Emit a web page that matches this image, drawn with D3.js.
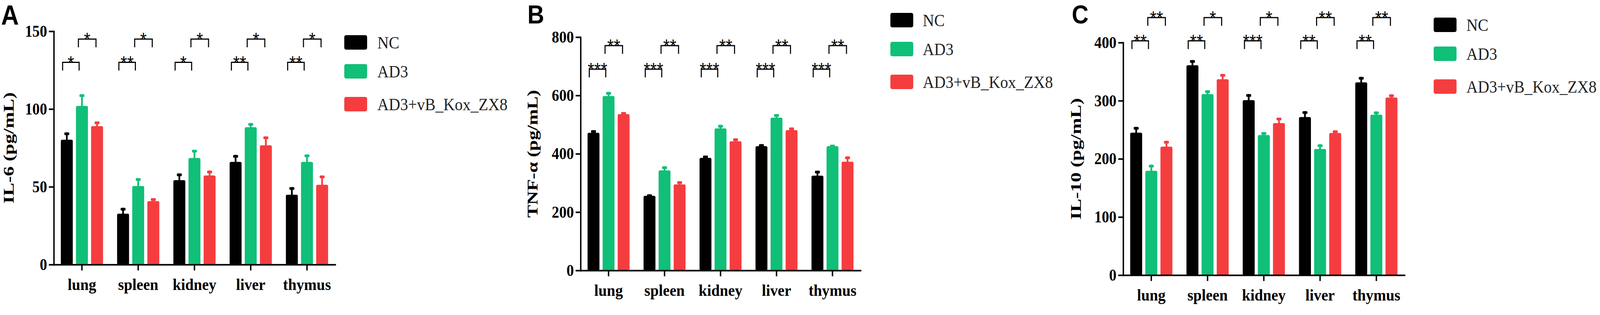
<!DOCTYPE html>
<html>
<head>
<meta charset="utf-8">
<script src="https://cdn.jsdelivr.net/npm/d3@7"></script>
<style>
  html, body { margin: 0; padding: 0; background: #fff; overflow: hidden; }
  svg { display: block; }
</style>
</head>
<body>
<div id="chart"></div>
<script>
// categories and groups
const organs = ["lung", "spleen", "kidney", "liver", "thymus"];
const groups = ["NC", "AD3", "AD3+vB_Kox_ZX8"];
const groupColours = ["#000000", "#10bf78", "#f53d3f"];

// IL-6 (pg/mL)
const il6NC = [80.3, 32.7, 54.3, 66, 44.9];
const il6NCErr = [4.7, 3.8, 4.3, 4.5, 4.9];
const il6AD3 = [102, 50.5, 68.5, 88.3, 66];
const il6AD3Err = [7.5, 5.1, 5.3, 2.7, 4.8];
const il6ZX8 = [89, 40.8, 57.3, 76.7, 51.3];
const il6ZX8Err = [3, 1.9, 3.1, 5.7, 6];

// TNF-a (pg/mL)
const tnfNC = [472, 256, 386, 426, 325];
const tnfNCErr = [9, 5, 8, 7, 17];
const tnfAD3 = [598, 343, 487, 524, 426];
const tnfAD3Err = [14, 14, 12, 12, 5];
const tnfZX8 = [536, 295, 443, 481, 373];
const tnfZX8Err = [7, 11, 10, 9, 18];

// IL-10 (pg/mL)
const il10NC = [245, 361, 301, 272, 331.6];
const il10NCErr = [10, 9, 10.5, 10, 9.4];
const il10AD3 = [179.5, 311.5, 241, 217, 276];
const il10AD3Err = [10.5, 6.5, 5, 8, 5.5];
const il10ZX8 = [221, 337, 261.5, 244.6, 305.6];
const il10ZX8Err = [10, 9, 9.5, 4.4, 5.4];

// significance marks: NC vs AD3 (lower) and AD3 vs AD3+ZX8 (upper)
const il6SigLow = ["*", "**", "*", "**", "**"];
const il6SigHigh = ["*", "*", "*", "*", "*"];
const tnfSigLow = ["***", "***", "***", "***", "***"];
const tnfSigHigh = ["**", "**", "**", "**", "**"];
const il10SigLow = ["**", "**", "***", "**", "**"];
const il10SigHigh = ["**", "*", "*", "**", "**"];

// y ticks
const il6Ticks = [0, 50, 100, 150];
const tnfTicks = [0, 200, 400, 600, 800];
const il10Ticks = [0, 100, 200, 300, 400];

const serif = "'Liberation Serif', 'Times New Roman', serif";
const sans = "'Liberation Sans', Arial, sans-serif";

// fixed 4550x806 drawing, stretched onto whatever the window really is
const svg = d3.select('#chart').append('svg')
    .attr('viewBox', '0 0 4550 806')
    .attr('preserveAspectRatio', 'none')
    .style('width', '100vw')
    .style('height', '100vh')
    .style('background', '#fff');

const panels = [
  {
    letter: 'A', letterX: 3, letterY: 63, letterSize: 70,
    left: 153, right: 953, top: 80, bottom: 677,
    max: 150, ticks: il6Ticks, label: 'IL-6 (pg/mL)', labelGap: 114, labelLen: 285,
    means: [il6NC, il6AD3, il6ZX8], errs: [il6NCErr, il6AD3Err, il6ZX8Err],
    sigLow: il6SigLow, sigHigh: il6SigHigh, levelLow: 130, levelHigh: 145,
    legendX: 979, legendY: 90, legendTextX: 1073,
  },
  {
    letter: 'B', letterX: 1500, letterY: 60, letterSize: 66,
    left: 1651, right: 2447, top: 95, bottom: 692,
    max: 800, ticks: tnfTicks, label: 'TNF-\u03b1 (pg/mL)', labelGap: 122, labelLen: 327,
    means: [tnfNC, tnfAD3, tnfZX8], errs: [tnfNCErr, tnfAD3Err, tnfZX8Err],
    sigLow: tnfSigLow, sigHigh: tnfSigHigh, levelLow: 690, levelHigh: 771,
    legendX: 2532, legendY: 33, legendTextX: 2624,
  },
  {
    letter: 'C', letterX: 3048, letterY: 60, letterSize: 66,
    left: 3194, right: 3994, top: 109, bottom: 704,
    max: 400, ticks: il10Ticks, label: 'IL-10 (pg/mL)', labelGap: 120, labelLen: 311,
    means: [il10NC, il10AD3, il10ZX8], errs: [il10NCErr, il10AD3Err, il10ZX8Err],
    sigLow: il10SigLow, sigHigh: il10SigHigh, levelLow: 403, levelHigh: 443,
    legendX: 4077, legendY: 45, legendTextX: 4170,
  },
];

panels.forEach(drawPanel);

function drawPanel(cfg) {
  const g = svg.append('g');

  // scales
  const x0 = d3.scaleBand()
      .domain(organs)
      .range([cfg.left, cfg.right])
      .paddingInner(0.25)
      .paddingOuter(0.125);
  const x1 = d3.scaleBand()
      .domain(groups)
      .range([0, x0.bandwidth()])
      .paddingInner(0.21)
      .paddingOuter(0);
  const y = d3.scaleLinear()
      .domain([0, cfg.max])
      .range([cfg.bottom, cfg.top]);

  // flatten into bar records
  const bars = [];
  organs.forEach((o, i) => {
    groups.forEach((grp, j) => {
      bars.push({ organ: o, group: grp, idx: j, mean: cfg.means[j][i], err: cfg.errs[j][i] });
    });
  });

  // bars
  g.selectAll('.bar')
      .data(bars)
      .join('rect')
      .attr('class', 'bar')
      .attr('x', d => x0(d.organ) + x1(d.group))
      .attr('y', d => y(d.mean))
      .attr('width', x1.bandwidth())
      .attr('height', d => y(0) - y(d.mean))
      .attr('rx', 4)
      .attr('fill', d => groupColours[d.idx]);

  // error bars: stem + cap
  const cx = d => x0(d.organ) + x1(d.group) + x1.bandwidth() / 2;
  g.selectAll('.err-stem')
      .data(bars)
      .join('rect')
      .attr('class', 'err-stem')
      .attr('x', d => cx(d) - 2.5)
      .attr('y', d => y(d.mean + d.err))
      .attr('width', 5)
      .attr('height', d => y(d.mean) - y(d.mean + d.err) + 2)
      .attr('fill', d => groupColours[d.idx]);
  g.selectAll('.err-cap')
      .data(bars)
      .join('rect')
      .attr('class', 'err-cap')
      .attr('x', d => cx(d) - 7)
      .attr('y', d => y(d.mean + d.err))
      .attr('width', 14)
      .attr('height', 7)
      .attr('rx', 2)
      .attr('fill', d => groupColours[d.idx]);

  // axes
  const yAxis = g.append('g')
      .attr('transform', `translate(${cfg.left},0)`)
      .call(d3.axisLeft(y).tickValues(cfg.ticks).tickSize(14).tickPadding(5).tickSizeOuter(0));
  const xAxis = g.append('g')
      .attr('transform', `translate(0,${cfg.bottom})`)
      .call(d3.axisBottom(x0).tickSize(15).tickPadding(19).tickSizeOuter(0));

  [yAxis, xAxis].forEach(ax => {
    ax.select('.domain').attr('stroke', '#000').attr('stroke-width', 4).attr('stroke-linecap', 'square');
    ax.selectAll('.tick line').attr('stroke', '#000').attr('stroke-width', 4);
    ax.selectAll('.tick text')
        .attr('fill', '#000')
        .style('font-family', serif)
        .style('font-weight', 'bold')
        .style('font-size', '42px');
  });
  xAxis.selectAll('.tick text').style('font-size', '43px');

  // y axis title
  g.append('text')
      .attr('transform', `translate(${cfg.left - cfg.labelGap},${(cfg.top + cfg.bottom) / 2}) rotate(-90)`)
      .attr('text-anchor', 'middle')
      .attr('textLength', cfg.labelLen)
      .attr('lengthAdjust', 'spacingAndGlyphs')
      .style('font-family', serif)
      .style('font-weight', 'bold')
      .style('font-size', '42px')
      .text(cfg.label);

  // panel letter
  g.append('text')
      .attr('x', cfg.letterX)
      .attr('y', cfg.letterY)
      .style('font-family', sans)
      .style('font-weight', 'bold')
      .style('font-size', cfg.letterSize + 'px')
      .text(cfg.letter);

  // significance brackets
  const centre = (o, j) => x0(o) + x1(groups[j]) + x1.bandwidth() / 2;
  const brackets = [];
  organs.forEach((o, i) => {
    brackets.push({ x1: centre(o, 0) - 12, x2: centre(o, 1) - 8, level: cfg.levelLow, mark: cfg.sigLow[i] });
    brackets.push({ x1: centre(o, 1) - 10, x2: centre(o, 2) - 3, level: cfg.levelHigh, mark: cfg.sigHigh[i] });
  });
  g.selectAll('.bracket')
      .data(brackets)
      .join('path')
      .attr('class', 'bracket')
      .attr('d', d => `M${d.x1},${y(d.level) + 21}V${y(d.level)}H${d.x2}V${y(d.level) + 21}`)
      .attr('fill', 'none')
      .attr('stroke', '#000')
      .attr('stroke-width', 3);
  g.selectAll('.sig')
      .data(brackets)
      .join('text')
      .attr('class', 'sig')
      .attr('x', d => (d.x1 + d.x2) / 2)
      .attr('y', d => y(d.level) + 17)
      .attr('text-anchor', 'middle')
      .style('font-family', sans)
      .style('font-size', '48px')
      .text(d => d.mark);

  // legend
  const legendOffsets = [0, 74, 158];
  const legend = g.selectAll('.legend')
      .data(groups)
      .join('g')
      .attr('class', 'legend')
      .attr('transform', (d, i) => `translate(0,${cfg.legendY + legendOffsets[i]})`);
  legend.append('rect')
      .attr('x', cfg.legendX)
      .attr('width', 65)
      .attr('height', 37)
      .attr('rx', 5)
      .attr('fill', (d, i) => groupColours[i]);
  legend.append('text')
      .attr('x', cfg.legendTextX)
      .attr('y', 34)
      .style('font-family', serif)
      .style('font-size', '45px')
      .attr('fill', '#222')
      .text(d => d);
}
</script>
</body>
</html>
